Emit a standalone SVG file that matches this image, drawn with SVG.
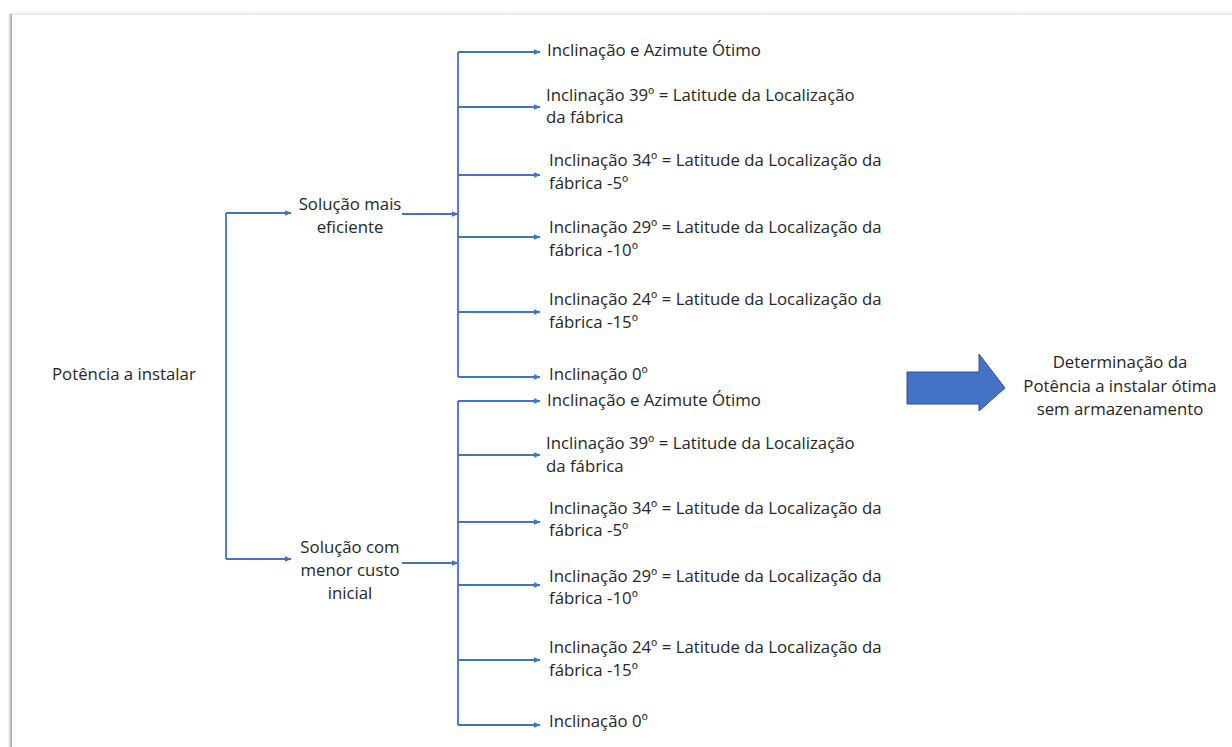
<svg xmlns="http://www.w3.org/2000/svg" width="1232" height="747" viewBox="0 0 1232 747">
<defs>
<style>
text{font-family:"Open Sans","Noto Sans","Liberation Sans",sans-serif;font-size:16.8px;fill:#262626}
.c{text-anchor:middle}
.ln{fill:none;stroke:#4472C4;stroke-width:1.8}
</style>
<marker id="ah" viewBox="0 0 10 10" refX="9" refY="5" markerWidth="7" markerHeight="7" orient="auto" markerUnits="userSpaceOnUse">
<path d="M0,1L10,5L0,9z" fill="#4472C4"/>
</marker>
<linearGradient id="ls" x1="0" y1="0" x2="1" y2="0">
<stop offset="0" stop-color="#ffffff"/>
<stop offset="0.6" stop-color="#c8c8c8"/>
<stop offset="1" stop-color="#9a9a9a"/>
</linearGradient>
<linearGradient id="ts" x1="0" y1="0" x2="0" y2="1">
<stop offset="0" stop-color="#ffffff"/>
<stop offset="1" stop-color="#e6e6e6"/>
</linearGradient>
</defs>
<rect width="1232" height="747" fill="#ffffff"/>
<g id="page">
<rect x="11" y="11" width="1221" height="4" fill="url(#ts)"/>
<rect x="8" y="14" width="4" height="733" fill="url(#ls)"/>
</g>
<g id="connectors">
<path class="ln" d="M226,213V559"/>
<path class="ln" d="M226,213H291" marker-end="url(#ah)"/>
<path class="ln" d="M226,559H291" marker-end="url(#ah)"/>
<path class="ln" d="M402,214H458" marker-end="url(#ah)"/>
<path class="ln" d="M402,563H458" marker-end="url(#ah)"/>
<path class="ln" d="M458,52V377"/>
<path class="ln" d="M458,52H540" marker-end="url(#ah)"/>
<path class="ln" d="M458,107H540" marker-end="url(#ah)"/>
<path class="ln" d="M458,175H540" marker-end="url(#ah)"/>
<path class="ln" d="M458,237H540" marker-end="url(#ah)"/>
<path class="ln" d="M458,312H540" marker-end="url(#ah)"/>
<path class="ln" d="M458,377H540" marker-end="url(#ah)"/>
<path class="ln" d="M458,401V725"/>
<path class="ln" d="M458,401H540" marker-end="url(#ah)"/>
<path class="ln" d="M458,455H540" marker-end="url(#ah)"/>
<path class="ln" d="M458,522H540" marker-end="url(#ah)"/>
<path class="ln" d="M458,585H540" marker-end="url(#ah)"/>
<path class="ln" d="M458,660H540" marker-end="url(#ah)"/>
<path class="ln" d="M458,725H540" marker-end="url(#ah)"/>
</g>
<g id="root"><text x="52" y="380">Potência a instalar</text></g>
<g id="eficiente"><text class="c" x="350" y="210">Solução mais</text><text class="c" x="350" y="233">eficiente</text></g>
<g id="custo"><text class="c" x="350" y="553">Solução com</text><text class="c" x="350" y="576">menor custo</text><text class="c" x="350" y="599">inicial</text></g>
<g id="a1"><text x="547" y="56">Inclinação e Azimute Ótimo</text></g>
<g id="a2"><text x="546" y="101">Inclinação 39º = Latitude da Localização</text><text x="546" y="123">da fábrica</text></g>
<g id="a3"><text x="549" y="166">Inclinação 34º = Latitude da Localização da</text><text x="549" y="189">fábrica -5º</text></g>
<g id="a4"><text x="549" y="233">Inclinação 29º = Latitude da Localização da</text><text x="549" y="256">fábrica -10º</text></g>
<g id="a5"><text x="549" y="305">Inclinação 24º = Latitude da Localização da</text><text x="549" y="328">fábrica -15º</text></g>
<g id="a6"><text x="549" y="380">Inclinação 0º</text></g>
<g id="b1"><text x="547" y="406">Inclinação e Azimute Ótimo</text></g>
<g id="b2"><text x="546" y="449">Inclinação 39º = Latitude da Localização</text><text x="546" y="472">da fábrica</text></g>
<g id="b3"><text x="549" y="514">Inclinação 34º = Latitude da Localização da</text><text x="549" y="536">fábrica -5º</text></g>
<g id="b4"><text x="549" y="582">Inclinação 29º = Latitude da Localização da</text><text x="549" y="604">fábrica -10º</text></g>
<g id="b5"><text x="549" y="653">Inclinação 24º = Latitude da Localização da</text><text x="549" y="676">fábrica -15º</text></g>
<g id="b6"><text x="549" y="727">Inclinação 0º</text></g>
<g id="bigarrow"><path d="M907,372H979V354L1005,388L979,411V404H907Z" fill="#4472C4" stroke="#2F528F" stroke-width="1"/></g>
<g id="result"><text class="c" x="1120" y="368">Determinação da</text><text class="c" x="1120" y="392">Potência a instalar ótima</text><text class="c" x="1120" y="415">sem armazenamento</text></g>
</svg>
